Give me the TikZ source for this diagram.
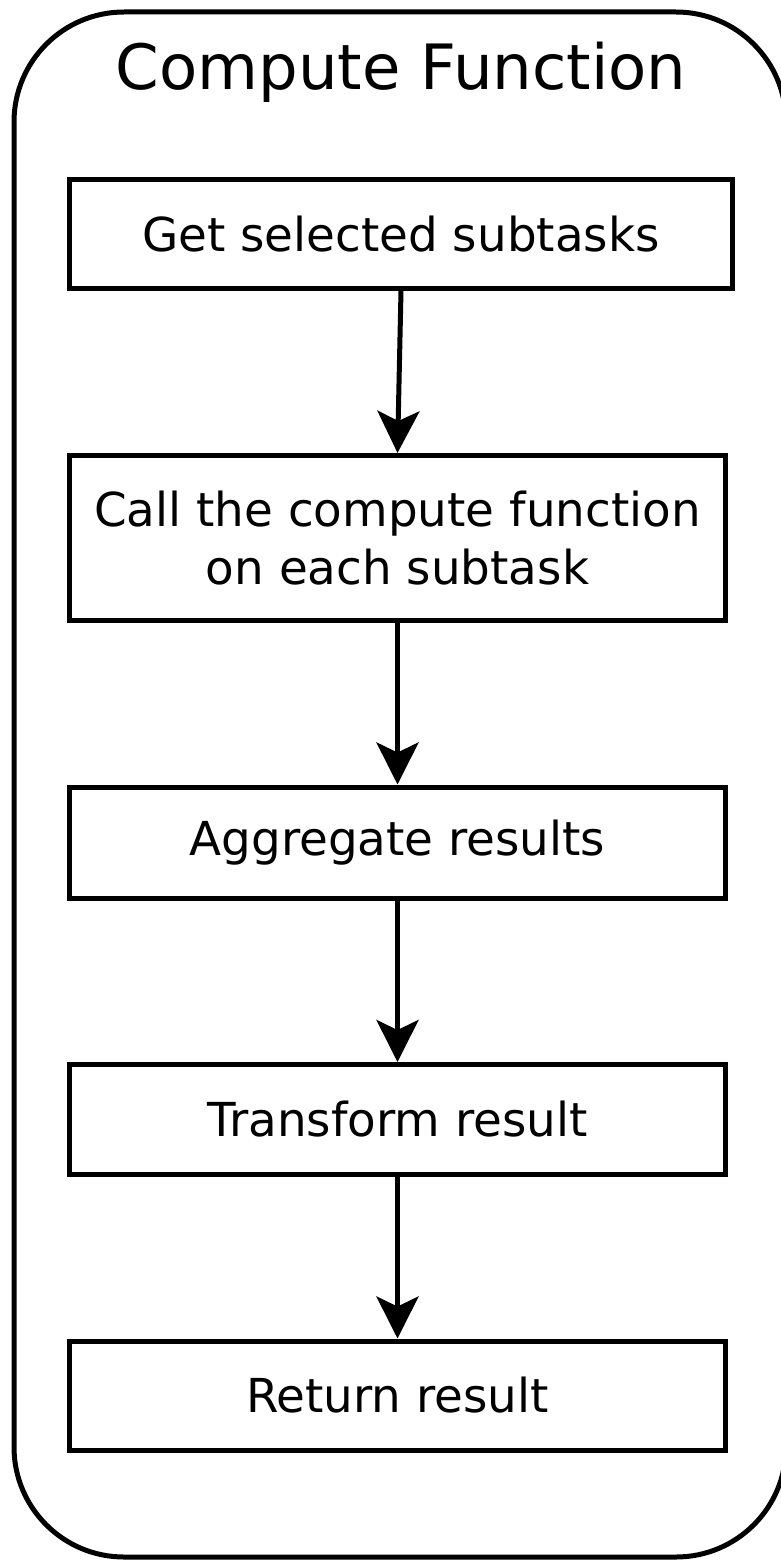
\documentclass[tikz,border=0pt]{standalone}
\usepackage{fontspec}
\setmainfont{DejaVu Sans}
\usetikzlibrary{arrows.meta}
\newcommand{\stepFont}{\fontsize{46.8}{58}\selectfont}
\newcommand{\frameFont}{\fontsize{62.5}{76}\selectfont}

\begin{document}
\begin{tikzpicture}[x=1pt, y=-1pt, line width=5pt,
		stepbox/.style={draw, rectangle, align=center, font=\stepFont, inner sep=0pt, minimum width=656pt},
		flow/.style={-{Stealth[length=42pt, width=42pt, inset=10pt]}}]
	\useasboundingbox (0,0) rectangle (781,1560);
	% outer frame
	\draw[rounded corners=110pt] (14,12) rectangle (786,1557);
	\node[anchor=base, font=\frameFont] (title) at (401,90) {Compute Function};
	% steps
	\node[stepbox, minimum width=663pt, minimum height=108.5pt] (get) at (401,233.75) {Get selected subtasks};
	\node[stepbox, minimum height=165pt] (call) at (397.5,538) {Call the compute function\\on each subtask};
	\node[stepbox, minimum height=111pt] (aggregate) at (397.5,842.5) {Aggregate results};
	\node[stepbox, minimum height=109.5pt] (transform) at (397.5,1119.25) {Transform result};
	\node[stepbox, minimum height=109pt] (return) at (397.5,1395.5) {Return result};
	% arrows
	\draw[flow] (get.south) -- (call.north);
	\draw[flow] (call) -- (aggregate);
	\draw[flow] (aggregate) -- (transform);
	\draw[flow] (transform) -- (return);
\end{tikzpicture}
\end{document}
